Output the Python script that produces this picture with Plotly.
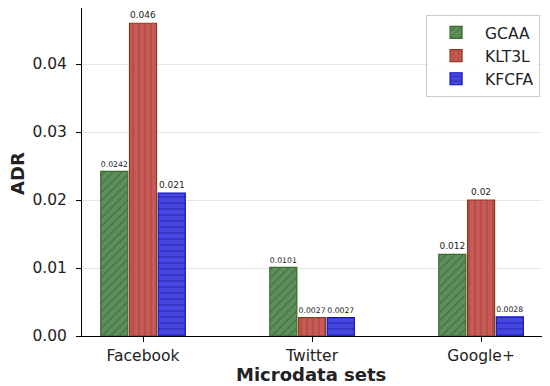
import plotly.graph_objects as go

categories = ["Facebook", "Twitter", "Google+"]
series_names = ["GCAA", "KLT3L", "KFCFA"]
gcaa = [0.0242, 0.0101, 0.012]
klt3l = [0.046, 0.0027, 0.02]
kfcfa = [0.021, 0.0027, 0.0028]
labels_gcaa = ["0.0242", "0.0101", "0.012"]
labels_klt3l = ["0.046", "0.0027", "0.02"]
labels_kfcfa = ["0.021", "0.0027", "0.0028"]
y_ticks = [0.0, 0.01, 0.02, 0.03, 0.04]
y_tick_text = ["0.00", "0.01", "0.02", "0.03", "0.04"]
x_title = "Microdata sets"
y_title = "ADR"

series = [
    (series_names[0], gcaa, labels_gcaa, -0.17, "#5e8f5e", "#2f5f1f", "#3a6a2a", "/"),
    (series_names[1], klt3l, labels_klt3l, 0.0, "#c8585a", "#8b4513", "#8b3a1a", "|"),
    (series_names[2], kfcfa, labels_kfcfa, 0.17, "#4646e0", "#1a1aa0", "#1010c8", "-"),
]

fig = go.Figure()
base = list(range(len(categories)))
for name, vals, labs, off, bg, fg, edge, shape in series:
    fig.add_trace(go.Bar(
        name=name,
        x=[b + off for b in base],
        y=vals,
        width=0.16,
        text=labs,
        textposition="outside",
        textfont=dict(size=9, color="#222"),
        cliponaxis=False,
        marker=dict(
            color=bg,
            line=dict(color=edge, width=1.2),
            pattern=dict(shape=shape, fgcolor=fg, bgcolor=bg, size=6, solidity=0.25, fillmode="overlay"),
        ),
    ))

# The page body adds an 8px offset, so the figure is sized 8px smaller.
fig.update_layout(
    width=542, height=378,
    margin=dict(l=74, r=2, t=0, b=50, autoexpand=False),
    paper_bgcolor="white", plot_bgcolor="white",
    font=dict(family="DejaVu Sans", color="#222"),
    barmode="overlay",
    legend=dict(
        x=0.983, y=0.979, xanchor="right", yanchor="top",
        bordercolor="#cccccc", borderwidth=1, bgcolor="rgba(255,255,255,0.8)",
        font=dict(size=15.5), itemwidth=48, tracegroupgap=0,
    ),
    xaxis=dict(
        tickmode="array", tickvals=base, ticktext=categories,
        range=[-0.361, 2.396], automargin=False,
        showline=True, linecolor="black", mirror=True, linewidth=1,
        ticks="outside", ticklen=5, tickcolor="black",
        tickfont=dict(size=15.5),
        showgrid=False, zeroline=False,
    ),
    yaxis=dict(
        tickmode="array", tickvals=y_ticks, ticktext=y_tick_text,
        range=[0, 0.04824], automargin=False,
        showline=True, linecolor="black", mirror=True, linewidth=1,
        ticks="outside", ticklen=5, tickcolor="black",
        ticklabelstandoff=6,
        tickfont=dict(size=15.5),
        showgrid=True, gridcolor="#e6e6e6", zeroline=False,
    ),
    annotations=[
        dict(text="<b>" + x_title + "</b>", xref="paper", yref="paper", x=0.491, y=-0.1159,
             xanchor="center", yanchor="middle", showarrow=False, borderpad=0, font=dict(size=18)),
        dict(text="<b>" + y_title + "</b>", xref="paper", yref="paper", x=-0.1373, y=0.494,
             xanchor="center", yanchor="middle", showarrow=False, borderpad=0, textangle=-90,
             font=dict(size=18)),
    ],
)

fig.write_html("out.html")
